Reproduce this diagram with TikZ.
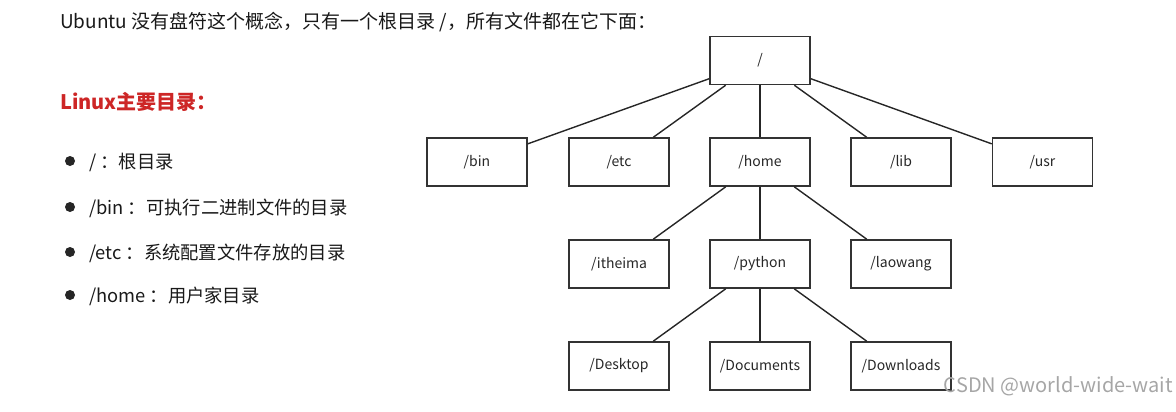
\documentclass[tikz,border=0pt]{standalone}
\usepackage{fontspec}
\setmainfont{Noto Sans CJK SC}
\definecolor{titlered}{RGB}{205,38,38}
\begin{document}
\begin{tikzpicture}[x=1pt, y=-1pt,
        dir/.style={draw=black!80, line width=1.5pt, minimum width=100pt, text=black!85,
            minimum height=48pt, inner sep=0pt, font=\fontsize{14}{16}\selectfont},
        link/.style={draw=black!85, line width=1.4pt},
        txt/.style={anchor=base west, inner sep=0pt, text=black!90, font=\fontsize{19}{21}\selectfont}]
    \useasboundingbox (0,0) rectangle (1176,412);

    \node[txt] (intro) at (60,29) {Ubuntu 没有盘符这个概念，只有一个根目录 /，所有文件都在它下面：};
    \node[txt, text=titlered, font=\fontsize{20}{22}\selectfont\bfseries] (title) at (60,110) {Linux主要目录：};

    \foreach \y/\t [count=\i] in {161/{/ ：根目录}, 207/{/bin ：可执行二进制文件的目录},
            252/{/etc ：系统配置文件存放的目录}, 295/{/home ：用户家目录}} {
            \fill[black!85] (70,\y) circle (5);
            \node[txt, font=\fontsize{18.3}{20}\selectfont] (item\i) at (89,\y+7) {\t};
        }

    \node[dir] (root) at (760,60.5) {/};
    \node[dir] (bin) at (477,162) {/bin};
    \node[dir] (etc) at (619,162) {/etc};
    \node[dir] (home) at (760,162) {/home};
    \node[dir] (lib) at (901,162) {/lib};
    \node[dir] (usr) at (1042.5,162) {/usr};
    \node[dir] (itheima) at (619,264) {/itheima};
    \node[dir] (python) at (760,264) {/python};
    \node[dir] (laowang) at (901,264) {/laowang};
    \node[dir] (desktop) at (619,366) {/Desktop};
    \node[dir] (documents) at (760,366) {/Documents};
    \node[dir] (downloads) at (901,366) {/Downloads};

    \foreach \c in {bin, etc, home, lib, usr} {
            \draw[link] (root) -- (\c);
        }
    \foreach \c in {itheima, python, laowang} {
            \draw[link] (home) -- (\c);
        }
    \foreach \c in {desktop, documents, downloads} {
            \draw[link] (python) -- (\c);
        }

    \node[anchor=east, inner sep=0pt, text=black!35, font=\fontsize{20}{22}\selectfont] (mark) at (1173,386) {CSDN @world-wide-wait};

\end{tikzpicture}
\end{document}
